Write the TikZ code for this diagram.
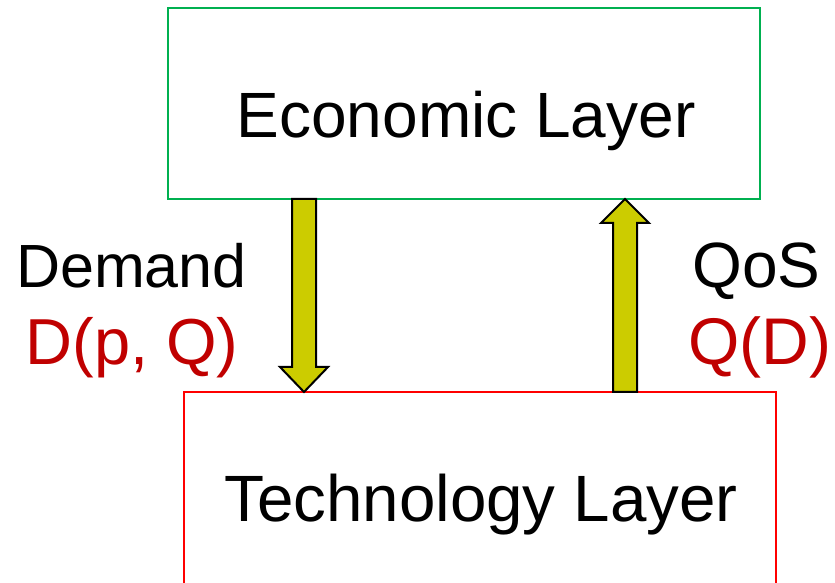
\documentclass[tikz,border=0pt]{standalone}
\usepackage{fontspec}
\setmainfont{Liberation Sans}
\usepackage[]{tikz}
\usetikzlibrary{positioning,calc}
\definecolor{layergreen}{RGB}{0,176,80}
\definecolor{layerred}{RGB}{255,0,0}
\definecolor{labelred}{RGB}{192,0,0}
\definecolor{arrowfill}{RGB}{204,204,0}

\begin{document}
\begin{tikzpicture}[x=1pt,y=1pt,
        layer/.style={draw,line width=1.7pt,minimum width=592pt,inner sep=0pt,outer sep=0pt},
        bigtext/.style={font=\fontsize{64}{76}\selectfont,inner sep=0pt,anchor=base},
        blockarrow/.style={draw=black,fill=arrowfill,line width=2pt,line join=miter}]
        \useasboundingbox (0,0) rectangle (835,583);
        \clip (0,0) rectangle (835,583);
        \node[layer,draw=layergreen,minimum height=191pt] (eco) at (464,479.5) {};
        \node[layer,draw=layerred,minimum height=216pt] (tech) at (480,83) {};
        \node[bigtext] (ecotext) at (466,445) {Economic Layer};
        \node[bigtext,font=\fontsize{65.5}{76}\selectfont] (techtext) at (481,61) {Technology Layer};
        % Nachfrage nach unten
        \coordinate (dnx) at (304,0);
        \coordinate (dntop) at (eco.south -| dnx);
        \coordinate (dntip) at (tech.north -| dnx);
        \draw[blockarrow] ($(dntop)+(-12,0)$) -- ($(dntip)+(-12,25)$) -- ($(dntip)+(-24,25)$) -- (dntip)
                -- ($(dntip)+(24,25)$) -- ($(dntip)+(12,25)$) -- ($(dntop)+(12,0)$) -- cycle;
        % QoS nach oben
        \coordinate (upx) at (625,0);
        \coordinate (uptip) at (eco.south -| upx);
        \coordinate (upbot) at (tech.north -| upx);
        \draw[blockarrow] ($(upbot)+(-12,0)$) -- ($(uptip)+(-12,-24)$) -- ($(uptip)+(-24,-24)$) -- (uptip)
                -- ($(uptip)+(24,-24)$) -- ($(uptip)+(12,-24)$) -- ($(upbot)+(12,0)$) -- cycle;
        \node[bigtext,font=\fontsize{61}{76}\selectfont] (demand) at (131.5,295) {Demand};
        \node[bigtext,text=labelred,font=\fontsize{65}{76}\selectfont] (demandfn) at (132,218) {D(p, Q)};
        \node[bigtext] (qos) at (756.5,295) {QoS};
        \node[bigtext,text=labelred,font=\fontsize{66}{76}\selectfont] (qosfn) at (760,218) {Q(D)};
\end{tikzpicture}
\end{document}
